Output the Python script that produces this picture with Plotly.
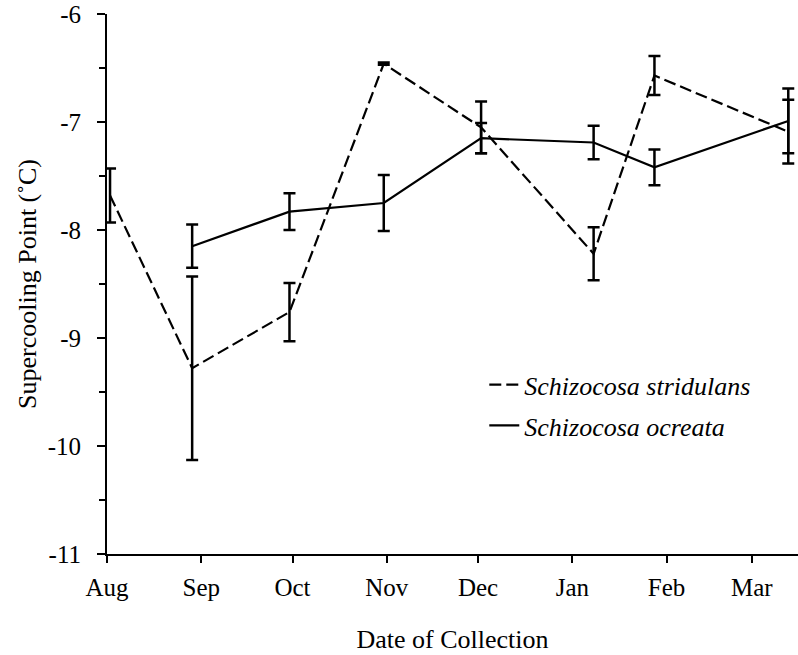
import plotly.graph_objects as go
import pandas as pd

# ---- data ----
tick_dates = ["2002-08-01", "2002-09-01", "2002-10-01", "2002-11-01",
              "2002-12-01", "2003-01-01", "2003-02-01", "2003-03-01"]
tick_labels = ["Aug", "Sep", "Oct", "Nov", "Dec", "Jan", "Feb", "Mar"]

strid_dates = ["2002-08-02", "2002-08-29", "2002-09-30", "2002-10-31",
               "2002-12-02", "2003-01-08", "2003-01-28", "2003-03-13"]
strid_mean = [-7.68, -9.28, -8.76, -6.46, -7.05, -8.22, -6.57, -7.09]
strid_err = [0.25, 0.85, 0.27, 0.01, 0.24, 0.245, 0.18, 0.295]

ocr_dates = ["2002-08-29", "2002-09-30", "2002-10-31",
             "2002-12-02", "2003-01-08", "2003-01-28", "2003-03-13"]
ocr_mean = [-8.15, -7.83, -7.75, -7.15, -7.19, -7.42, -6.99]
ocr_err = [0.20, 0.17, 0.26, 0.14, 0.155, 0.165, 0.30]

x_start = pd.Timestamp("2002-08-01")
x_end = x_start + pd.Timedelta(days=227.2)

FONT = "Liberation Serif, Times New Roman, serif"

fig = go.Figure()

fig.add_trace(go.Scatter(
    x=strid_dates, y=strid_mean, mode="lines",
    name="<i>Schizocosa stridulans</i>",
    legendgroup="a",
    line=dict(color="black", width=2.2, dash="12px,5px"),
    error_y=dict(type="data", array=strid_err, visible=True,
                 color="black", thickness=2.5, width=6),
))
fig.add_trace(go.Scatter(
    x=ocr_dates, y=ocr_mean, mode="lines",
    name="<i>Schizocosa ocreata</i>",
    legendgroup="b",
    line=dict(color="black", width=2.2),
    error_y=dict(type="data", array=ocr_err, visible=True,
                 color="black", thickness=2.5, width=6),
))

fig.update_layout(
    width=798, height=655,
    margin=dict(l=107, r=0, t=14, b=101),
    paper_bgcolor="white", plot_bgcolor="white",
    font=dict(family=FONT, size=25, color="black"),
    showlegend=True,
    legend=dict(x=0.546, y=0.357, xanchor="left", yanchor="top",
                font=dict(family=FONT, size=26, color="black"),
                bgcolor="rgba(0,0,0,0)", traceorder="grouped",
                tracegroupgap=4),
)

fig.update_xaxes(
    type="date", range=[x_start, x_end],
    tickmode="array", tickvals=tick_dates, ticktext=tick_labels,
    showgrid=False, zeroline=False,
    showline=True, linecolor="black", linewidth=2,
    ticks="outside", ticklen=7, tickwidth=2, tickcolor="black",
    ticklabelstandoff=3,
    tickfont=dict(family=FONT, size=25, color="black"),
    title=dict(text="Date of Collection", standoff=30,
               font=dict(family=FONT, size=26, color="black")),
)
fig.update_yaxes(
    range=[-11, -6], tickmode="array",
    tickvals=[-11, -10, -9, -8, -7, -6],
    ticktext=["-11", "-10", "-9", "-8", "-7", "-6"],
    showgrid=False, zeroline=False,
    showline=True, linecolor="black", linewidth=2,
    ticks="outside", ticklen=8, tickwidth=2, tickcolor="black",
    ticklabelstandoff=11,
    tickfont=dict(family=FONT, size=25, color="black"),
    minor=dict(tickvals=[-10.5, -9.5, -8.5, -7.5, -6.5], ticks="outside",
               ticklen=6, tickwidth=2, tickcolor="black", showgrid=False),
    title=dict(text="Supercooling Point (˚C)", standoff=4,
               font=dict(family=FONT, size=26, color="black")),
)

fig.write_html("out.html")
